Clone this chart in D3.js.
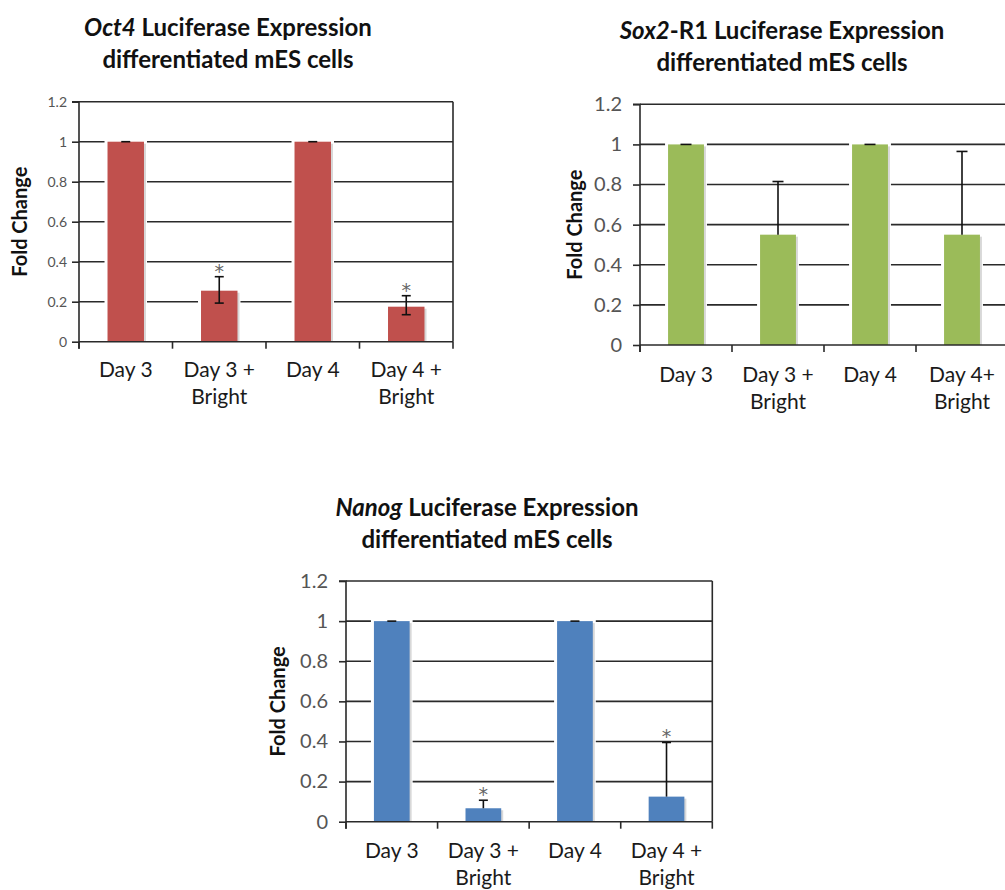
<!DOCTYPE html>
<html>
<head>
<meta charset="utf-8">
<script src="https://cdn.jsdelivr.net/npm/d3@7"></script>
<style>
  html, body { margin: 0; padding: 0; background: #fff; }
  svg { display: block; }
</style>
</head>
<body>
<div id="chart"></div>
<script>
// --- DATA ---
const categories = ["Day 3", "Day 3 + Bright", "Day 4", "Day 4 + Bright"];
const yTicks = [0, 0.2, 0.4, 0.6, 0.8, 1, 1.2];

// x labels, split into lines as they appear under each chart
const oct4Labels = [["Day 3"], ["Day 3 +", "Bright"], ["Day 4"], ["Day 4 +", "Bright"]];
const sox2Labels = [["Day 3"], ["Day 3 +", "Bright"], ["Day 4"], ["Day 4+", "Bright"]];
const nanogLabels = [["Day 3"], ["Day 3 +", "Bright"], ["Day 4"], ["Day 4 +", "Bright"]];

const oct4Values = [1, 0.255, 1, 0.175];
const oct4ErrPlus = [0, 0.07, 0, 0.055];
const oct4ErrMinus = [0, 0.062, 0, 0.04];
const oct4Stars = [false, true, false, true];

const sox2Values = [1, 0.55, 1, 0.55];
const sox2ErrPlus = [0, 0.265, 0, 0.415];
const sox2ErrMinus = [0, 0, 0, 0];
const sox2Stars = [false, false, false, false];

const nanogValues = [1, 0.067, 1, 0.125];
const nanogErrPlus = [0, 0.04, 0, 0.27];
const nanogErrMinus = [0, 0, 0, 0];
const nanogStars = [false, true, false, true];

const FONT = "Lato, 'Open Sans', sans-serif";

const svg = d3.select("#chart")
    .append("svg")
    .attr("width", 1005)
    .attr("height", 890);

// --- one panel ---
function drawPanel(cfg) {
    const g = svg.append("g");

    const x = d3.scaleBand()
        .domain(categories)
        .range([cfg.left, cfg.right])
        .paddingInner(0.61)
        .paddingOuter(0.305);

    const y = d3.scaleLinear()
        .domain([0, 1.2])
        .range([cfg.bottom, cfg.top]);

    const step = x.step();
    const rows = categories.map((c, i) => ({
        cat: c,
        v: cfg.values[i],
        ep: cfg.errPlus[i],
        em: cfg.errMinus[i],
        star: cfg.stars[i],
        label: cfg.labels[i]
    }));

    // Title
    const title = g.append("text")
        .attr("x", cfg.titleX)
        .attr("y", cfg.titleY)
        .attr("text-anchor", "middle")
        .attr("font-family", FONT)
        .attr("font-weight", "bold")
        .attr("font-size", cfg.titleSize)
        .attr("fill", "#111");
    title.append("tspan").attr("font-style", "italic").text(cfg.gene);
    title.append("tspan").text(cfg.titleRest);
    g.append("text")
        .attr("x", cfg.titleX)
        .attr("y", cfg.titleY + 32)
        .attr("text-anchor", "middle")
        .attr("font-family", FONT)
        .attr("font-weight", "bold")
        .attr("font-size", cfg.titleSize)
        .attr("fill", "#111")
        .text("differentiated mES cells");

    // Gridlines
    g.append("g")
        .selectAll("line")
        .data(yTicks.filter(t => t > 0))
        .join("line")
        .attr("x1", cfg.left)
        .attr("x2", cfg.right)
        .attr("y1", d => y(d))
        .attr("y2", d => y(d))
        .attr("stroke", "#2a2a2a")
        .attr("stroke-width", 1.6);

    // right border
    g.append("line")
        .attr("x1", cfg.right).attr("x2", cfg.right)
        .attr("y1", y(1.2)).attr("y2", y(0))
        .attr("stroke", "#2a2a2a")
        .attr("stroke-width", 1.6);

    // Bars: white halo, soft shadow, fill
    const bars = g.append("g").selectAll("g").data(rows).join("g");
    bars.append("rect")
        .attr("x", d => x(d.cat) - 3)
        .attr("y", d => y(d.v) - 3)
        .attr("width", x.bandwidth() + 6)
        .attr("height", d => y(0) - y(d.v) + 2)
        .attr("fill", "#fff");
    bars.append("rect")
        .attr("x", d => x(d.cat) + 2)
        .attr("y", d => y(d.v) + 2)
        .attr("width", x.bandwidth())
        .attr("height", d => y(0) - y(d.v) - 2)
        .attr("fill", "#d8d8d8");
    bars.append("rect")
        .attr("x", d => x(d.cat))
        .attr("y", d => y(d.v))
        .attr("width", x.bandwidth())
        .attr("height", d => y(0) - y(d.v))
        .attr("fill", cfg.color);

    // Error bars
    const cx = d => x(d.cat) + x.bandwidth() / 2;
    const cap = cfg.cap;
    const err = g.append("g").attr("stroke", "#111").attr("stroke-width", 1.6);
    err.selectAll("line.v")
        .data(rows)
        .join("line")
        .attr("class", "v")
        .attr("x1", cx).attr("x2", cx)
        .attr("y1", d => y(d.v + d.ep))
        .attr("y2", d => y(d.v - d.em));
    err.selectAll("line.top")
        .data(rows)
        .join("line")
        .attr("class", "top")
        .attr("x1", d => cx(d) - cap / 2).attr("x2", d => cx(d) + cap / 2)
        .attr("y1", d => y(d.v + d.ep))
        .attr("y2", d => y(d.v + d.ep));
    err.selectAll("line.bot")
        .data(rows.filter(d => d.em > 0))
        .join("line")
        .attr("class", "bot")
        .attr("x1", d => cx(d) - cap / 2).attr("x2", d => cx(d) + cap / 2)
        .attr("y1", d => y(d.v - d.em))
        .attr("y2", d => y(d.v - d.em));

    // Significance stars
    g.append("g").selectAll("text")
        .data(rows.filter(d => d.star))
        .join("text")
        .attr("x", cx)
        .attr("y", d => y(d.v + d.ep) + 1)
        .attr("text-anchor", "middle")
        .attr("font-family", "'DejaVu Sans', sans-serif")
        .attr("font-size", 19)
        .attr("fill", "#666")
        .text("*");

    // Y axis
    const yAxis = g.append("g")
        .attr("transform", `translate(${cfg.left},0)`)
        .call(d3.axisLeft(y)
            .tickValues(yTicks)
            .tickSize(7)
            .tickPadding(cfg.tickPad)
            .tickFormat(d => String(+d.toFixed(1))));
    yAxis.select(".domain")
        .attr("stroke", "#2a2a2a")
        .attr("stroke-width", 1.6)
        .attr("d", `M-7,${y(1.2)}H0V${y(0) + 7}`);
    yAxis.selectAll(".tick line").attr("stroke", "#2a2a2a").attr("stroke-width", 1.6);
    yAxis.selectAll(".tick text")
        .attr("font-family", FONT)
        .attr("font-size", cfg.tickSize)
        .attr("fill", "#555");

    // X axis: baseline with ticks at category boundaries
    g.append("line")
        .attr("x1", cfg.left).attr("x2", cfg.right)
        .attr("y1", y(0)).attr("y2", y(0))
        .attr("stroke", "#2a2a2a")
        .attr("stroke-width", 1.6);
    g.append("g").selectAll("line")
        .data(d3.range(categories.length + 1))
        .join("line")
        .attr("x1", i => cfg.left + i * step)
        .attr("x2", i => cfg.left + i * step)
        .attr("y1", y(0))
        .attr("y2", y(0) + 7)
        .attr("stroke", "#2a2a2a")
        .attr("stroke-width", 1.6);

    // X labels
    const xl = g.append("g").selectAll("text")
        .data(rows)
        .join("text")
        .attr("x", cx)
        .attr("y", cfg.xLabelY)
        .attr("text-anchor", "middle")
        .attr("font-family", FONT)
        .attr("font-size", cfg.xLabelSize)
        .attr("fill", "#1a1a1a");
    xl.selectAll("tspan")
        .data(d => d.label.map(l => ({ l, x: cx(d) })))
        .join("tspan")
        .attr("x", d => d.x)
        .attr("dy", (d, i) => i === 0 ? 0 : 27)
        .text(d => d.l);

    // Y title
    g.append("text")
        .attr("transform", `translate(${cfg.yTitleX},${(y(0) + y(1.2)) / 2}) rotate(-90)`)
        .attr("text-anchor", "middle")
        .attr("font-family", FONT)
        .attr("font-weight", "bold")
        .attr("font-size", cfg.yTitleSize)
        .attr("fill", "#111")
        .text("Fold Change");
}

drawPanel({
    gene: "Oct4", titleRest: " Luciferase Expression",
    values: oct4Values, errPlus: oct4ErrPlus, errMinus: oct4ErrMinus,
    stars: oct4Stars, labels: oct4Labels, color: "#c0504d",
    left: 79, right: 453, top: 101.7, bottom: 341.7,
    titleX: 228, titleY: 36, titleSize: 24,
    tickSize: 14, tickPad: 5, cap: 9,
    xLabelY: 377, xLabelSize: 21,
    yTitleX: 27, yTitleSize: 20
});

drawPanel({
    gene: "Sox2", titleRest: "-R1  Luciferase Expression",
    values: sox2Values, errPlus: sox2ErrPlus, errMinus: sox2ErrMinus,
    stars: sox2Stars, labels: sox2Labels, color: "#9bbb59",
    left: 640, right: 1008, top: 104.3, bottom: 345,
    titleX: 782, titleY: 39, titleSize: 24,
    tickSize: 20, tickPad: 11, cap: 11,
    xLabelY: 382, xLabelSize: 21,
    yTitleX: 582, yTitleSize: 20
});

drawPanel({
    gene: "Nanog", titleRest: " Luciferase Expression",
    values: nanogValues, errPlus: nanogErrPlus, errMinus: nanogErrMinus,
    stars: nanogStars, labels: nanogLabels, color: "#4f81bd",
    left: 346, right: 712.3, top: 581, bottom: 821.7,
    titleX: 487, titleY: 516, titleSize: 24,
    tickSize: 20, tickPad: 11, cap: 9,
    xLabelY: 858, xLabelSize: 21,
    yTitleX: 285, yTitleSize: 20
});
</script>
</body>
</html>
